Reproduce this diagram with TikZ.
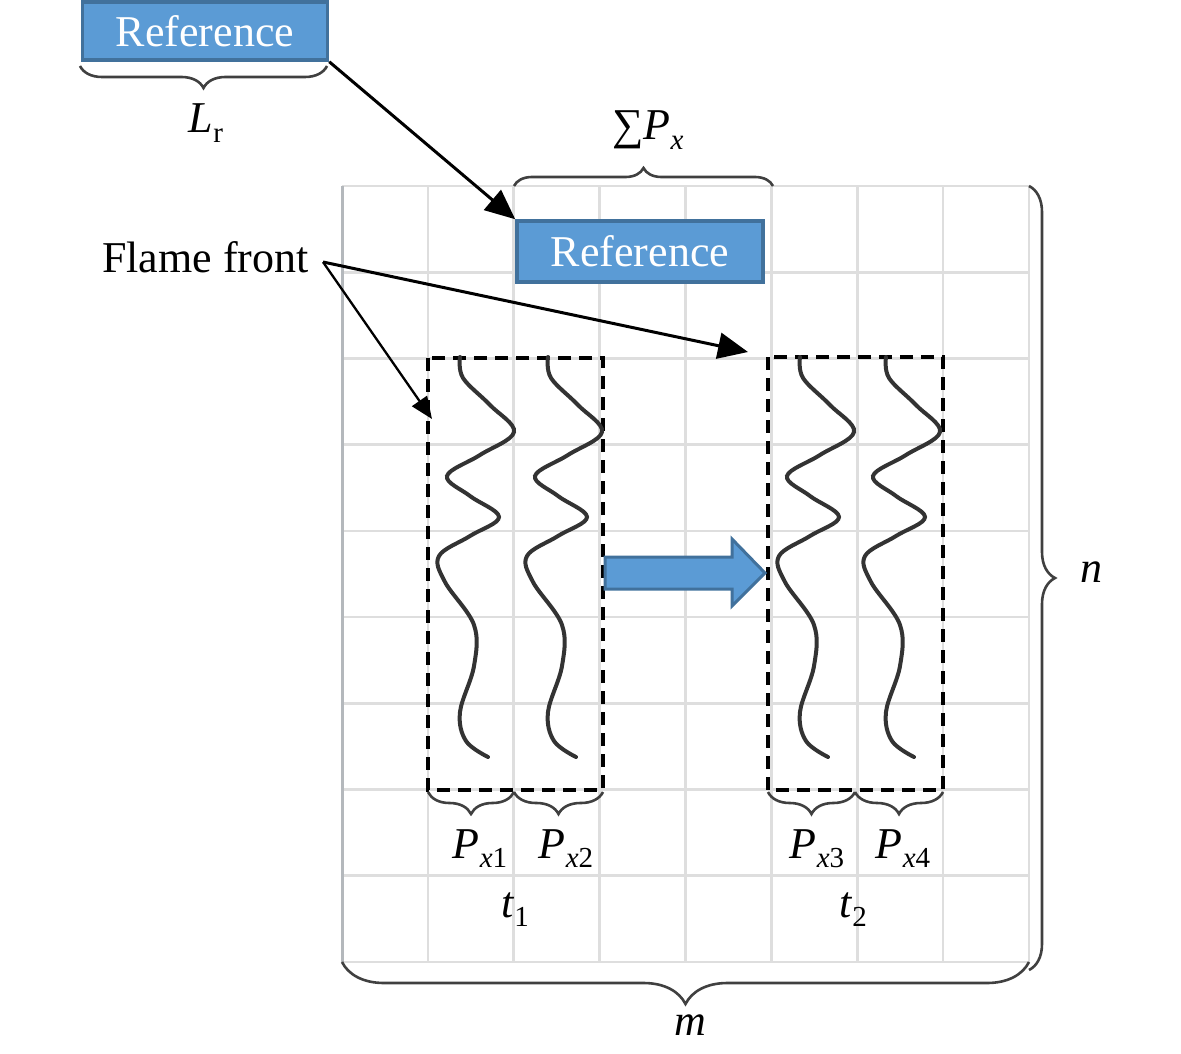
\documentclass[tikz,border=0pt]{standalone}
\usepackage{fontspec}
\setmainfont{Liberation Serif}
\usetikzlibrary{arrows.meta,decorations.pathreplacing}
\definecolor{refblue}{HTML}{5B9BD5}
\definecolor{refedge}{HTML}{41719C}
\definecolor{gridgray}{HTML}{DEDEDE}
\definecolor{gridedge}{HTML}{B4B8BC}
\definecolor{wavegray}{HTML}{333333}
\newcommand{\sbs}[1]{\raisebox{-0.22em}{\fontsize{29}{30}\selectfont #1}}
\begin{document}
\begin{tikzpicture}[x=1pt,y=-1pt,
  reftxt/.style={font=\fontsize{44}{50}\selectfont, inner sep=0pt},
  refbox/.style={draw=refedge, line width=3.5pt, fill=refblue, text=white,
    minimum width=245pt, minimum height=58pt, inner sep=0pt,
    font=\fontsize{44}{50}\selectfont},
  bigarrow/.style={-{Triangle[length=30pt,width=26pt]}, line width=3pt},
  thinarrow/.style={-{Triangle[length=22pt,width=18pt]}, line width=2.3pt},
  bracestyle/.style={decorate, decoration={brace, amplitude=#1}, draw=black!75, line width=2.6pt},
  gridline/.style={draw=gridgray, line width=2.6pt},
  dashbox/.style={draw=black, line width=4.5pt, dash pattern=on 13pt off 8pt},
  wave/.style={draw=wavegray, line width=4pt, line cap=round},
  blockarrow/.style={fill=refblue, draw=refedge, line width=3pt, line join=miter}
]
\useasboundingbox (0,0) rectangle (1181,1054);

% grid
\foreach \i in {0,...,8}
  \draw[gridline] (342+\i*85.875,186) -- ++(0,776);
\foreach \j in {0,...,9}
  \draw[gridline] (342,186+\j*86.2) -- ++(687,0);
\draw[draw=gridedge, line width=3pt] (342,186) -- (342,962);

% dashed boxes
\draw[dashbox] (428,358) rectangle (603,790);
\draw[dashbox] (768,357) rectangle (943,790);

% waves
\foreach \dx in {0,88,340,426}
  \draw[wave, xshift=\dx pt] plot[smooth, tension=0.6] coordinates {
    (460,357) (463,378) (490,405) (514,432) (480,455) (447,476)
    (470,496) (499,517) (470,536) (439,556) (445,582) (474,625)
    (474,666) (460,712) (466,741) (488,757)};

% block arrow
\draw[blockarrow] (605,557) -- (732,557) -- (732,539) -- (765,573)
  -- (732,606) -- (732,589) -- (605,589) -- cycle;

% reference boxes
\node[refbox] (ref1) at (205,31) {Reference};
\node[refbox, minimum width=246pt, minimum height=61pt] (ref2) at (640,251.5) {Reference};
\draw[bigarrow] (ref1.south east) -- (ref2.north west);

% flame front
\node[reftxt, anchor=base west] (ff) at (102,272) {Flame front};
\coordinate (ffp) at (323,262);
\coordinate (ffa) at (748,352);
\coordinate (ffb) at (432,419);
\draw[bigarrow] (ffp) -- (ffa);
\draw[thinarrow] (ffp) -- (ffb);

% braces
\draw[bracestyle=22pt] (327,66) -- (80,66);
\draw[bracestyle=18pt] (514,186) -- (773,186);
\draw[bracestyle=22pt] (514,792) -- (428,792);
\draw[bracestyle=22pt] (603,792) -- (514,792);
\draw[bracestyle=22pt] (855,792) -- (768,792);
\draw[bracestyle=22pt] (943,792) -- (855,792);
\draw[bracestyle=42pt] (1029,962) -- (342,962);
\draw[bracestyle=26pt] (1029,186) -- (1029,970);

% labels
\node[reftxt, anchor=base] (lr) at (206,133) {\textit{L}\sbs{r}};
\node[reftxt, anchor=base] (spx) at (648,140) {∑\textit{P}\sbs{\textit{x}}};
\node[reftxt, anchor=base] (p1) at (480,858) {\textit{P}\sbs{\textit{x}1}};
\node[reftxt, anchor=base] (p2) at (566,858) {\textit{P}\sbs{\textit{x}2}};
\node[reftxt, anchor=base] (p3) at (817,858) {\textit{P}\sbs{\textit{x}3}};
\node[reftxt, anchor=base] (p4) at (903,858) {\textit{P}\sbs{\textit{x}4}};
\node[reftxt, anchor=base] (t1) at (515,917) {\textit{t}\sbs{1}};
\node[reftxt, anchor=base] (t2) at (853,917) {\textit{t}\sbs{2}};
\node[reftxt, anchor=base] (m) at (690,1035) {\textit{m}};
\node[reftxt, anchor=base west] (n) at (1080,582) {\textit{n}};
\end{tikzpicture}
\end{document}
